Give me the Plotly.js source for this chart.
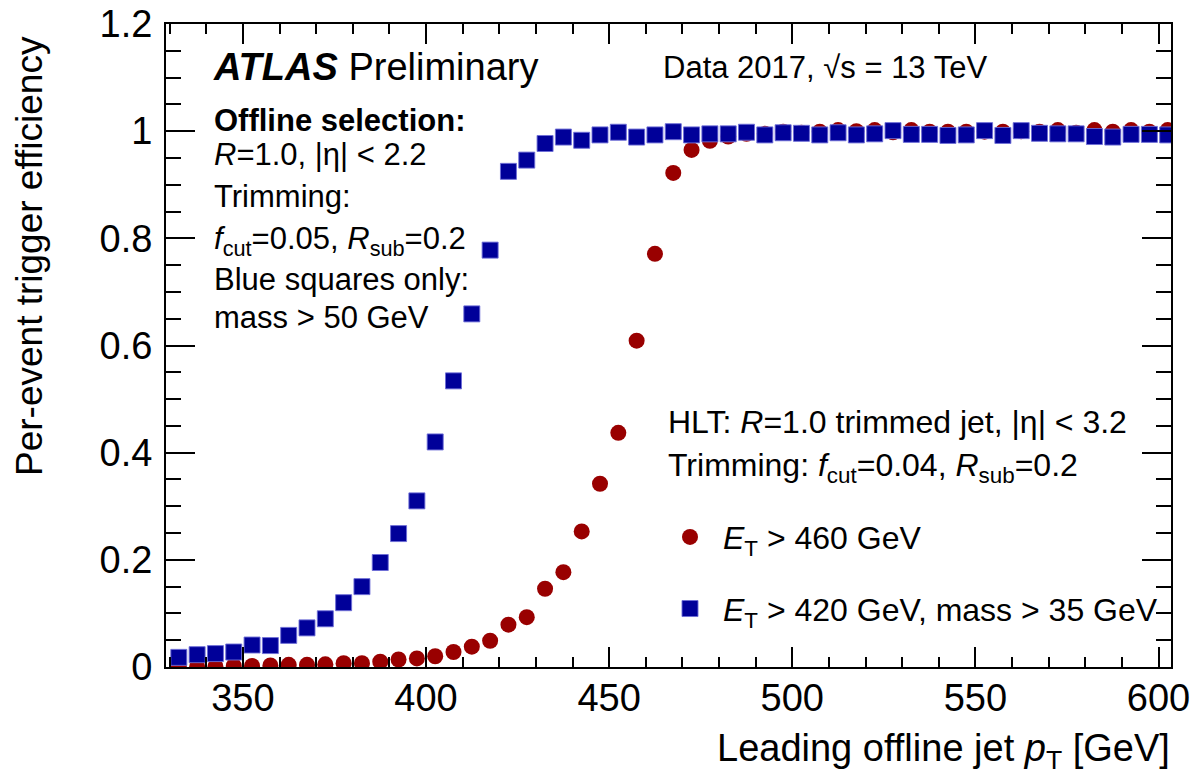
<!DOCTYPE html>
<html>
<head>
<meta charset="utf-8">
<script src="https://cdn.plot.ly/plotly-3.0.1.min.js"></script>
<style>
  html, body { margin: 0; padding: 0; background: #ffffff; }
  #chart { width: 1190px; height: 778px; }
</style>
</head>
<body>
<div id="chart"></div>
<script>
// Leading offline jet pT bin centres [GeV]
const ptBins = [332.5, 337.5, 342.5, 347.5, 352.5, 357.5, 362.5, 367.5, 372.5, 377.5,
                382.5, 387.5, 392.5, 397.5, 402.5, 407.5, 412.5, 417.5, 422.5, 427.5,
                432.5, 437.5, 442.5, 447.5, 452.5, 457.5, 462.5, 467.5, 472.5, 477.5,
                482.5, 487.5, 492.5, 497.5, 502.5, 507.5, 512.5, 517.5, 522.5, 527.5,
                532.5, 537.5, 542.5, 547.5, 552.5, 557.5, 562.5, 567.5, 572.5, 577.5,
                582.5, 587.5, 592.5, 597.5, 602.5];

// E_T > 460 GeV (red circles)
const effEt460 = [0.001, 0.001, 0.001, 0.002, 0.002, 0.003, 0.004, 0.004, 0.005, 0.007,
                  0.007, 0.010, 0.014, 0.016, 0.020, 0.028, 0.038, 0.049, 0.079, 0.093,
                  0.146, 0.177, 0.253, 0.342, 0.437, 0.609, 0.771, 0.922, 0.965, 0.982,
                  0.990, 0.995, 0.995, 0.999, 0.997, 0.999, 1.002, 1.000, 1.002, 0.998,
                  1.002, 0.999, 0.999, 0.999, 0.999, 0.999, 1.000, 0.999, 1.002, 0.997,
                  1.002, 0.999, 1.002, 0.999, 1.002];

// E_T > 420 GeV, mass > 35 GeV (blue squares)
const effEt420m35 = [0.018, 0.023, 0.025, 0.028, 0.041, 0.040, 0.059, 0.073, 0.090, 0.120,
                     0.150, 0.195, 0.249, 0.310, 0.420, 0.534, 0.659, 0.778, 0.925, 0.946,
                     0.977, 0.989, 0.983, 0.993, 0.998, 0.989, 0.993, 0.999, 0.993, 0.995,
                     0.995, 0.998, 0.993, 0.997, 0.996, 0.993, 0.997, 0.993, 0.995, 1.001,
                     0.994, 0.994, 0.992, 0.993, 1.001, 0.992, 1.001, 0.996, 0.995, 0.995,
                     0.990, 0.989, 0.994, 0.994, 0.993];

const seriesNames = ['<i>E</i><sub>T</sub> > 460 GeV', '<i>E</i><sub>T</sub> > 420 GeV, mass > 35 GeV'];

const FONT = '"Liberation Sans", Arial, Helvetica, sans-serif';
const RED = '#990000';
const BLUE = '#000099';

// plot area in pixels
const W = 1190, H = 778;
const L = 166, R = 1171, T = 24, B = 667.5;
const px = x => (x - L) / (R - L);
const py = y => (B - y) / (B - T);

const traces = [
  {
    x: ptBins, y: effEt460, type: 'scatter', mode: 'markers', name: seriesNames[0],
    legendgroup: 'a',
    marker: { symbol: 'circle', size: 16, color: RED, line: { width: 0 } },
    cliponaxis: true
  },
  {
    x: ptBins, y: effEt420m35, type: 'scatter', mode: 'markers', name: seriesNames[1],
    legendgroup: 'b',
    marker: { symbol: 'square', size: 16, color: BLUE, line: { width: 1, color: 'rgba(110,110,215,0.9)' } },
    cliponaxis: true
  }
];

function txt(text, x, y, size, opts) {
  return Object.assign({
    text: text, xref: 'paper', yref: 'paper', x: px(x), y: py(y),
    xanchor: 'left', yanchor: 'middle', showarrow: false,
    font: { family: FONT, size: size, color: '#000000' }
  }, opts || {});
}

const annotations = [
  txt('<b><i>ATLAS</i></b> Preliminary', 211, 67, 38),
  txt('Data 2017, √s = 13 TeV', 661, 68, 31),
  txt('<b>Offline selection:</b>', 212, 121, 31),
  txt('<i>R</i>=1.0, |η| < 2.2', 212, 155, 31),
  txt('Trimming:', 212, 197, 31),
  txt('<i>f</i><sub>cut</sub>=0.05, <i>R</i><sub>sub</sub>=0.2', 212, 241, 31),
  txt('Blue squares only:', 212, 280, 31),
  txt('mass > 50 GeV', 212, 318, 31),
  txt('HLT: <i>R</i>=1.0 trimmed jet, |η| < 3.2', 666, 422, 32),
  txt('Trimming: <i>f</i><sub>cut</sub>=0.04, <i>R</i><sub>sub</sub>=0.2', 666, 468, 32),
  // axis titles (ATLAS style: right / top aligned)
  txt('Leading offline jet <i>p</i><sub>T</sub> [GeV]', 1172, 752, 38, { xanchor: 'right' }),
  txt('Per-event trigger efficiency', 30, 34, 37, { xanchor: 'center', yanchor: 'top', textangle: -90 })
];

const layout = {
  width: W, height: H,
  margin: { l: L, r: W - R, t: T, b: H - B, pad: 0 },
  paper_bgcolor: '#ffffff', plot_bgcolor: '#ffffff',
  showlegend: true,
  legend: {
    x: px(657), y: py(510), xanchor: 'left', yanchor: 'top',
    bgcolor: 'rgba(0,0,0,0)', borderwidth: 0,
    font: { family: FONT, size: 32, color: '#000000' },
    traceorder: 'grouped', tracegroupgap: 27, itemwidth: 56,
    itemclick: false
  },
  xaxis: {
    range: [329, 603.4], showgrid: false, zeroline: false,
    showline: true, linecolor: '#000000', linewidth: 2, mirror: 'allticks',
    ticks: 'inside', ticklen: 20, tickwidth: 2, tickcolor: '#000000',
    tick0: 0, dtick: 50,
    minor: { ticks: 'inside', ticklen: 10, tickwidth: 2, tickcolor: '#000000', dtick: 10, showgrid: false },
    tickfont: { family: FONT, size: 38, color: '#000000' },
    ticklabelstandoff: -4,
    ticklabeloverflow: 'allow'
  },
  yaxis: {
    range: [0, 1.2], showgrid: false, zeroline: false,
    showline: true, linecolor: '#000000', linewidth: 2, mirror: 'allticks',
    ticks: 'inside', ticklen: 29, tickwidth: 2, tickcolor: '#000000',
    tick0: 0, dtick: 0.2,
    minor: { ticks: 'inside', ticklen: 15, tickwidth: 2, tickcolor: '#000000', dtick: 0.05, showgrid: false },
    tickfont: { family: FONT, size: 38, color: '#000000' },
    ticklabelstandoff: 4,
    ticklabeloverflow: 'allow'
  },
  annotations: annotations
};

Plotly.newPlot('chart', traces, layout, { displayModeBar: false, staticPlot: true });
</script>
</body>
</html>
